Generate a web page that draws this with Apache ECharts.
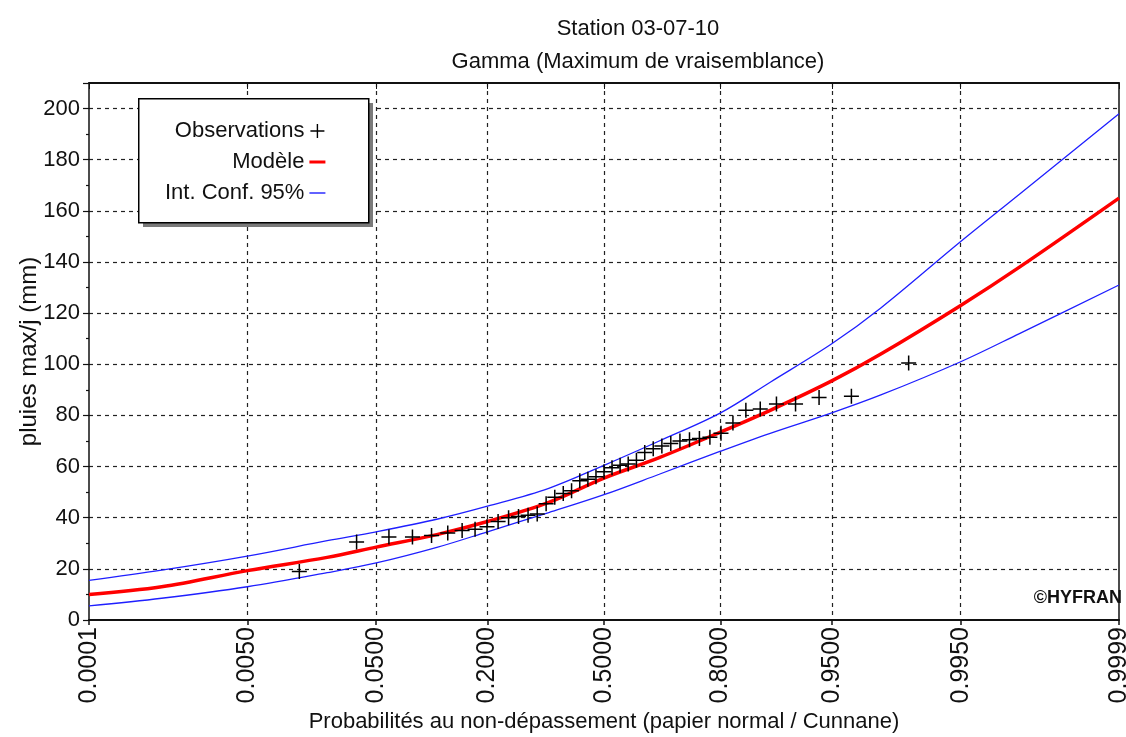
<!DOCTYPE html>
<html>
<head>
<meta charset="utf-8">
<script src="https://cdn.jsdelivr.net/npm/echarts@6/dist/echarts.min.js"></script>
<style>html,body{margin:0;padding:0;background:#fff}#chart{width:1126px;height:737px}</style>
</head>
<body>
<div id="chart"></div>
<script>
// ---- Data ----
const tickLabels = ['0.0001', '0.0050', '0.0500', '0.2000', '0.5000', '0.8000', '0.9500', '0.9950', '0.9999'];

// Observations: non-exceedance probability (Cunnane) and value (mm)
const obsProb = [0.0139, 0.0370, 0.0602, 0.0833, 0.1065, 0.1296, 0.1528, 0.1759, 0.1991, 0.2222,
  0.2454, 0.2685, 0.2917, 0.3148, 0.3380, 0.3611, 0.3843, 0.4074, 0.4306, 0.4537,
  0.4769, 0.5000, 0.5231, 0.5463, 0.5694, 0.5926, 0.6157, 0.6389, 0.6620, 0.6852,
  0.7083, 0.7315, 0.7546, 0.7778, 0.8009, 0.8241, 0.8472, 0.8704, 0.8935, 0.9167,
  0.9398, 0.9630, 0.9861];
const obsValue = [19, 30.5, 32.5, 32.5, 33, 34, 35, 35.5, 36.5, 38.5,
  40, 40.5, 41, 41.5, 45.5, 48, 49.5, 50.5, 54.5, 55,
  56, 58, 59.5, 60.5, 61, 62.5, 65.5, 67, 68, 69,
  70, 70.5, 71, 71.5, 73, 77, 82, 82.5, 84.5, 84.5,
  87, 87.5, 100.5];

// Fitted model and 95% confidence bounds
const curveProb = [0.0001, 0.0007, 0.005, 0.0228, 0.05, 0.115, 0.2, 0.345, 0.5, 0.655, 0.8, 0.885, 0.95, 0.9772, 0.995, 0.99865, 0.9999];
const modelValue = [10, 13, 19.3, 24.5, 28.5, 33.5, 38.5, 46, 55.5, 63.5, 73.5, 82, 93.5, 104, 123, 138, 165];
const upperValue = [15.5, 19.5, 25, 31, 34.5, 39.5, 44.5, 51.5, 60.5, 70, 81, 93, 108, 122, 148, 166.5, 198];
const lowerValue = [5.5, 8.5, 13, 18.5, 22.3, 28.5, 34.5, 42, 49, 57, 66, 73, 81, 88, 101, 112, 131];

// ---- normal probability paper transform (inverse normal CDF) ----
function probit(p) {
  const a = [-3.969683028665376e+01, 2.209460984245205e+02, -2.759285104469687e+02, 1.383577518672690e+02, -3.066479806614716e+01, 2.506628277459239e+00];
  const b = [-5.447609879822406e+01, 1.615858368580409e+02, -1.556989798598866e+02, 6.680131188771972e+01, -1.328068155328798e+01];
  const c = [-7.784894002430293e-03, -3.223964580411365e-01, -2.400758277161838e+00, -2.549732539343734e+00, 4.374664141464968e+00, 2.938163982698783e+00];
  const d = [7.784695709041462e-03, 3.224671290700398e-01, 2.445134137142996e+00, 3.754408661907416e+00];
  const pl = 0.02425, ph = 1 - pl;
  let q, r;
  if (p < pl) {
    q = Math.sqrt(-2 * Math.log(p));
    return (((((c[0]*q+c[1])*q+c[2])*q+c[3])*q+c[4])*q+c[5]) / ((((d[0]*q+d[1])*q+d[2])*q+d[3])*q+1);
  } else if (p <= ph) {
    q = p - 0.5; r = q * q;
    return (((((a[0]*r+a[1])*r+a[2])*r+a[3])*r+a[4])*r+a[5])*q / (((((b[0]*r+b[1])*r+b[2])*r+b[3])*r+b[4])*r+1);
  } else {
    q = Math.sqrt(-2 * Math.log(1 - p));
    return -(((((c[0]*q+c[1])*q+c[2])*q+c[3])*q+c[4])*q+c[5]) / ((((d[0]*q+d[1])*q+d[2])*q+d[3])*q+1);
  }
}

const tickZ = tickLabels.map(s => probit(parseFloat(s)));
const zMin = tickZ[0], zMax = tickZ[tickZ.length - 1];
const pair = (ps, vs) => ps.map((p, i) => [probit(p), vs[i]]);

const FONT = "'Liberation Sans', Arial, sans-serif";
const PLUS = 'path://M-1,-0.1 L-0.1,-0.1 L-0.1,-1 L0.1,-1 L0.1,-0.1 L1,-0.1 L1,0.1 L0.1,0.1 L0.1,1 L-0.1,1 L-0.1,0.1 L-1,0.1 Z';
const RED_ICON = 'path://M0,0 L16,0 L16,3 L0,3 Z';
const BLUE_ICON = 'path://M0,0 L16,0 L16,1.4 L0,1.4 Z';
const dash = { color: '#222', width: 1.2, type: [4, 4] };

const chart = echarts.init(document.getElementById('chart'), null, { renderer: 'canvas' });
chart.setOption({
  animation: false,
  backgroundColor: '#fff',
  title: {
    text: 'Station 03-07-10\nGamma (Maximum de vraisemblance)',
    left: 633, top: 7, textAlign: 'center',
    textStyle: { fontFamily: FONT, fontSize: 22, fontWeight: 'normal', color: '#111', lineHeight: 33 }
  },
  grid: { left: 89, right: 7, top: 83, bottom: 117, containLabel: false, outerBoundsMode: 'none' },
  legend: {
    orient: 'vertical', left: 138, top: 98, align: 'right', z: 20,
    padding: [22, 46, 18, 27], itemGap: 9, itemWidth: 16, itemHeight: 14, itemTextGap: 3,
    symbolKeepAspect: true,
    formatter: n => '{t|' + n + '}',
    textStyle: { rich: { t: { width: 138, align: 'right', fontFamily: FONT, fontSize: 22, color: '#111', lineHeight: 22 } } },
    data: [
      { name: 'Observations', icon: PLUS, itemStyle: { color: '#000' } },
      { name: 'Modèle', icon: RED_ICON, itemStyle: { color: '#ff0000' } },
      { name: 'Int. Conf. 95%', icon: BLUE_ICON, itemStyle: { color: '#1f1fff' } }
    ]
  },
  xAxis: [{
    type: 'value', position: 'bottom', min: zMin, max: zMax,
    name: 'Probabilités au non-dépassement (papier normal / Cunnane)',
    nameLocation: 'middle', nameGap: 88,
    nameTextStyle: { fontFamily: FONT, fontSize: 22, color: '#111' },
    axisLine: { show: true, onZero: false, lineStyle: { color: '#111', width: 2 } },
    axisTick: { show: true, inside: false, length: 5, customValues: tickZ, lineStyle: { color: '#111', width: 1.5 } },
    axisLabel: {
      customValues: tickZ, rotate: 90, margin: 7, fontFamily: FONT, fontSize: 25, color: '#111',
      formatter: v => { let best = 0; tickZ.forEach((z, i) => { if (Math.abs(z - v) < Math.abs(tickZ[best] - v)) best = i; }); return tickLabels[best]; }
    },
    splitLine: { show: true, showMinLine: false, showMaxLine: false, lineStyle: dash }
  }, {
    type: 'value', position: 'top', min: zMin, max: zMax,
    axisLine: { show: true, onZero: false, lineStyle: { color: '#111', width: 2 } },
    axisTick: { show: true, inside: true, length: 6, customValues: tickZ, lineStyle: { color: '#111', width: 1 } },
    axisLabel: { show: false },
    splitLine: { show: false }
  }],
  yAxis: [{
    type: 'value', position: 'left', min: 0, max: 210, interval: 20,
    name: 'pluies max/j (mm)', nameLocation: 'middle', nameGap: 48, nameRotate: 90, nameMoveOverlap: false,
    nameTextStyle: { fontFamily: FONT, fontSize: 24, color: '#111' },
    axisLine: { show: true, onZero: false, lineStyle: { color: '#111', width: 1.5 } },
    axisTick: { show: true, inside: false, length: 6, lineStyle: { color: '#111', width: 1.2 } },
    minorTick: { show: true, splitNumber: 2, length: 3, lineStyle: { color: '#111', width: 1.2 } },
    axisLabel: { showMaxLabel: false, margin: 9, fontFamily: FONT, fontSize: 22, color: '#111' },
    splitLine: { show: true, showMinLine: false, showMaxLine: false, lineStyle: dash }
  }, {
    type: 'value', position: 'right', min: 0, max: 210, interval: 20,
    axisLine: { show: true, onZero: false, lineStyle: { color: '#111', width: 1.5 } },
    axisTick: { show: false }, axisLabel: { show: false }, splitLine: { show: false }
  }],
  series: [
    { name: 'Int. Conf. 95%', type: 'line', data: pair(curveProb, upperValue), symbol: 'none', smooth: 0.35, z: 3,
      lineStyle: { color: '#1f1fff', width: 1.3 }, itemStyle: { color: '#1f1fff' } },
    { name: 'Int. Conf. 95%', type: 'line', data: pair(curveProb, lowerValue), symbol: 'none', smooth: 0.35, z: 3,
      lineStyle: { color: '#1f1fff', width: 1.3 }, itemStyle: { color: '#1f1fff' } },
    { name: 'Modèle', type: 'line', data: pair(curveProb, modelValue), symbol: 'none', smooth: 0.35, z: 4,
      lineStyle: { color: '#ff0000', width: 3.5 }, itemStyle: { color: '#ff0000' } },
    { name: 'Observations', type: 'scatter', data: pair(obsProb, obsValue), symbol: PLUS, symbolSize: 15, z: 5,
      itemStyle: { color: '#000', opacity: 1 } }
  ],
  graphic: [
    { type: 'rect', left: 143, top: 103, z: 15, shape: { width: 230, height: 124 }, style: { fill: '#7a7a7a' } },
    { type: 'rect', left: 138, top: 98, z: 16, shape: { width: 230, height: 124 }, style: { fill: '#fff', stroke: '#000', lineWidth: 1.5 } },
    { type: 'text', right: 4, top: 589, z: 10,
      style: { text: '©HYFRAN', fontFamily: FONT, fontSize: 18, fontWeight: 'bold', fill: '#111' } }
  ]
});
</script>
</body>
</html>
